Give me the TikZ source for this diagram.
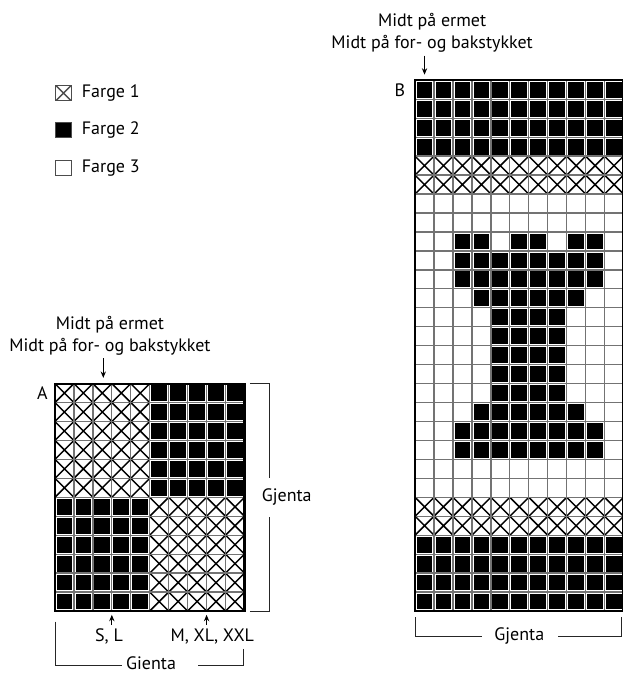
\documentclass[tikz,border=0pt]{standalone}
\usepackage{fontspec}
\setmainfont{PT Sans}
\usetikzlibrary{arrows.meta, positioning, calc}
\tikzset{
  cel/.style={rectangle, minimum size=5mm, inner sep=0pt, outer sep=0pt},
  xcross/.style={path picture={\draw[line width=1.1pt]
      (path picture bounding box.south west) -- (path picture bounding box.north east)
      (path picture bounding box.north west) -- (path picture bounding box.south east);}},
  c1/.style={cel, fill=white, xcross},
  c2/.style={cel, fill=white, path picture={\fill[black]
      ([shift={(1.2pt,1.2pt)}]path picture bounding box.south west) rectangle
      ([shift={(-1.2pt,-1.2pt)}]path picture bounding box.north east);}},
  c3/.style={cel, fill=white},
  key/.style={rectangle, draw=black!70, line width=0.8pt, minimum size=4mm, inner sep=0pt},
  lbl/.style={font=\fontsize{13.5}{16}\selectfont, inner sep=1pt},
  gridl/.style={draw=black!55, line width=1pt, step=1},
  frm/.style={line width=1.6pt},
  brk/.style={line width=0.65pt, draw=black!85},
  pil/.style={-{Stealth[length=1.7mm, width=1.4mm]}, line width=0.65pt}
}

\begin{document}
\begin{tikzpicture}[x=5mm, y=5mm]
  \useasboundingbox (-2.90,-3.27) rectangle (29.97,32.24);

  % forklaring
  \node[key, xcross] (k1) at (0.45,27.33) {};
  \node[key, fill=black] (k2) at (0.45,25.36) {};
  \node[key, fill=white] (k3) at (0.45,23.38) {};
  \node[lbl, right=2.3mm of k1] (k1-t) {Farge 1};
  \node[lbl, right=2.3mm of k2] (k2-t) {Farge 2};
  \node[lbl, right=2.3mm of k3] (k3-t) {Farge 3};

  % diagram A
  \foreach \rw [count=\r] in {
      {1,1,1,1,1,2,2,2,2,2},{1,1,1,1,1,2,2,2,2,2},{1,1,1,1,1,2,2,2,2,2},
      {1,1,1,1,1,2,2,2,2,2},{1,1,1,1,1,2,2,2,2,2},{1,1,1,1,1,2,2,2,2,2},
      {2,2,2,2,2,1,1,1,1,1},{2,2,2,2,2,1,1,1,1,1},{2,2,2,2,2,1,1,1,1,1},
      {2,2,2,2,2,1,1,1,1,1},{2,2,2,2,2,1,1,1,1,1},{2,2,2,2,2,1,1,1,1,1}} {
    \foreach \v [count=\c] in \rw {
      \node[c\v] (a-\r-\c) at (\c-0.5, 12.5-\r) {};
    }
  }
  \draw[gridl] (a-12-1.south west) grid (a-1-10.north east);
  \draw[frm] (a-12-1.south west) rectangle (a-1-10.north east);

  \node[lbl] (a-nm) at (-0.66,11.5) {A};
  \node[lbl] (a-erm) at (2.9,15.12) {Midt på ermet};
  \node[lbl] (a-for) at (2.9,13.95) {Midt på for- og bakstykket};
  \coordinate (a-pil) at (2.55,13.35);
  \draw[pil] (a-pil) -- ([yshift=1.5mm]a-pil |- a-1-3.north);

  \coordinate (a-sl) at (3,-0.75);
  \coordinate (a-mx) at (8,-0.75);
  \draw[pil] (a-sl) -- ([yshift=-1mm]a-sl |- a-12-3.south);
  \draw[pil] (a-mx) -- ([yshift=-1mm]a-mx |- a-12-8.south);
  \node[lbl] (a-sl-t) at (2.85,-1.35) {S, L};
  \node[lbl] (a-mx-t) at (8.3,-1.35) {M, XL, XXL};

  \draw[brk] (10.29,12) -| (11.31,7.02);
  \draw[brk] (10.29,0) -| (11.31,4.98);
  \node[lbl] (a-gj) at (12.23,6) {Gjenta};
  \draw[brk] (0.05,-0.56) |- (3.52,-2.88);
  \draw[brk] (9.97,-2.0) |- (7.55,-2.88);
  \node[lbl] (a-gi) at (5.07,-2.74) {Gienta};

  % diagram B
  \foreach \rw [count=\r] in {
      {2,2,2,2,2,2,2,2,2,2,2},{2,2,2,2,2,2,2,2,2,2,2},{2,2,2,2,2,2,2,2,2,2,2},
      {2,2,2,2,2,2,2,2,2,2,2},{1,1,1,1,1,1,1,1,1,1,1},{1,1,1,1,1,1,1,1,1,1,1},
      {3,3,3,3,3,3,3,3,3,3,3},{3,3,3,3,3,3,3,3,3,3,3},{3,3,2,2,3,2,2,3,2,2,3},
      {3,3,2,2,2,2,2,2,2,2,3},{3,3,2,2,2,2,2,2,2,2,3},{3,3,3,2,2,2,2,2,2,3,3},
      {3,3,3,3,2,2,2,2,3,3,3},{3,3,3,3,2,2,2,2,3,3,3},{3,3,3,3,2,2,2,2,3,3,3},
      {3,3,3,3,2,2,2,2,3,3,3},{3,3,3,3,2,2,2,2,3,3,3},{3,3,3,2,2,2,2,2,2,3,3},
      {3,3,2,2,2,2,2,2,2,2,3},{3,3,2,2,2,2,2,2,2,2,3},{3,3,3,3,3,3,3,3,3,3,3},
      {3,3,3,3,3,3,3,3,3,3,3},{1,1,1,1,1,1,1,1,1,1,1},{1,1,1,1,1,1,1,1,1,1,1},
      {2,2,2,2,2,2,2,2,2,2,2},{2,2,2,2,2,2,2,2,2,2,2},{2,2,2,2,2,2,2,2,2,2,2},
      {2,2,2,2,2,2,2,2,2,2,2}} {
    \foreach \v [count=\c] in \rw {
      \node[c\v] (b-\r-\c) at (18.5+\c, 28.5-\r) {};
    }
  }
  \draw[gridl] (b-28-1.south west) grid (b-1-11.north east);
  \draw[frm] (b-28-1.south west) rectangle (b-1-11.north east);

  \node[lbl] (b-nm) at (18.2,27.5) {B};
  \node[lbl] (b-erm) at (19.9,31.12) {Midt på ermet};
  \node[lbl] (b-for) at (19.9,29.95) {Midt på for- og bakstykket};
  \coordinate (b-pil) at (19.5,29.3);
  \draw[pil] (b-pil) -- ([yshift=1.5mm]b-pil |- b-1-1.north);

  \draw[brk] (19,-0.33) |- (22.52,-1.35);
  \draw[brk] (29.9,-0.33) |- (26.54,-1.35);
  \node[lbl] (b-gj) at (24.5,-1.32) {Gjenta};
\end{tikzpicture}
\end{document}
